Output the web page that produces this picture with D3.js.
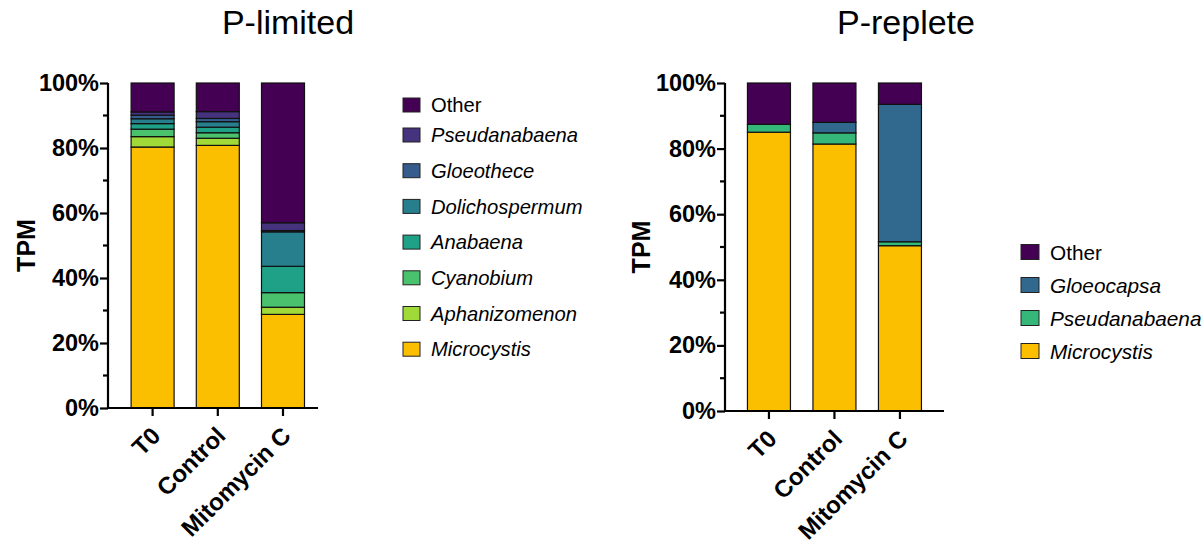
<!DOCTYPE html>
<html>
<head>
<meta charset="utf-8">
<script src="https://cdn.jsdelivr.net/npm/d3@7"></script>
<style>
  html, body { margin: 0; padding: 0; background: #fff; }
  svg { display: block; font-family: "Liberation Sans", Arial, sans-serif; }
</style>
</head>
<body>
<svg id="chart" width="1203" height="546"></svg>
<script>
// Treatments along the x axis
const groups = ["T0", "Control", "Mitomycin C"];

// P-limited: relative TPM (%) per genus, one value per treatment
const limitedTaxa = ["Microcystis", "Aphanizomenon", "Cyanobium", "Anabaena", "Dolichospermum", "Gloeothece", "Pseudanabaena", "Other"];
const limMicrocystis    = [80.3, 80.8, 28.8];
const limAphanizomenon  = [3.2, 2.2, 2.2];
const limCyanobium      = [2.3, 1.7, 4.5];
const limAnabaena       = [1.7, 1.7, 8.1];
const limDolichospermum = [1.5, 1.7, 10.6];
const limGloeothece     = [1.1, 1.0, 0.4];
const limPseudanabaena  = [1.0, 2.1, 2.4];
const limOther          = [8.9, 8.8, 43.0];
const limitedColors = ["#fbbf00", "#a0da39", "#4ac16d", "#1fa187", "#277f8e", "#365c8d", "#46337e", "#440154"];

// P-replete
const repleteTaxa = ["Microcystis", "Pseudanabaena", "Gloeocapsa", "Other"];
const repMicrocystis   = [85.0, 81.4, 50.4];
const repPseudanabaena = [2.4, 3.4, 1.2];
const repGloeocapsa    = [0.0, 3.2, 41.9];
const repOther         = [12.6, 12.0, 6.5];
const repleteColors = ["#fbbf00", "#35b779", "#31688e", "#440154"];

const yTicks = [0, 20, 40, 60, 80, 100];
const yMinorTicks = [10, 30, 50, 70, 90];
const italicTaxa = t => t !== "Other";

const svg = d3.select("#chart");

function buildRows(taxa, series) {
  return groups.map((g, i) => {
    const row = { group: g };
    taxa.forEach((t, k) => { row[t] = series[k][i]; });
    return row;
  });
}

function panel(cfg) {
  const g = svg.append("g");
  const y = d3.scaleLinear().domain([0, 100]).range([cfg.y0, cfg.y1]);
  const x = d3.scaleBand().domain(groups).range([cfg.xStart, cfg.xStart + cfg.step * 3]).padding(0);
  const barW = cfg.barW;
  const color = d3.scaleOrdinal().domain(cfg.taxa).range(cfg.colors);

  const rows = buildRows(cfg.taxa, cfg.series);
  const stacked = d3.stack().keys(cfg.taxa)(rows);

  // stacked bars
  g.append("g").selectAll("g").data(stacked).join("g")
    .attr("fill", d => color(d.key))
    .selectAll("rect").data(d => d.filter(s => s[1] - s[0] > 0)).join("rect")
    .attr("x", d => x(d.data.group) + x.bandwidth() / 2 - barW / 2)
    .attr("width", barW)
    .attr("y", d => y(d[1]))
    .attr("height", d => y(d[0]) - y(d[1]))
    .attr("stroke", "#111")
    .attr("stroke-width", 1.2);

  // y axis
  const yAxis = g.append("g")
    .attr("transform", `translate(${cfg.axisX},0)`)
    .call(d3.axisLeft(y).tickValues(yTicks).tickSize(8).tickPadding(1).tickFormat(d => d + "%"));
  yAxis.select(".domain").attr("stroke-width", 2.2).attr("d", `M0,${cfg.y0 + 1}V${cfg.y1}`);
  yAxis.selectAll(".tick line").attr("stroke-width", 2.2);
  yAxis.selectAll(".tick text").attr("font-size", 23.5).attr("font-weight", "bold")
    .attr("font-family", "Liberation Sans, Arial, sans-serif").attr("fill", "#000");
  g.append("g").attr("transform", `translate(${cfg.axisX},0)`)
    .selectAll("line").data(yMinorTicks).join("line")
    .attr("x1", -5).attr("x2", 0)
    .attr("y1", d => y(d)).attr("y2", d => y(d))
    .attr("stroke", "#000").attr("stroke-width", 2.2);

  // x axis
  const xAxis = g.append("g")
    .attr("transform", `translate(0,${cfg.y0})`)
    .call(d3.axisBottom(x).tickSize(8).tickFormat(""));
  xAxis.select(".domain").attr("stroke-width", 2.2).attr("d", `M${cfg.axisX - 1},0H${cfg.xEnd}`);
  xAxis.selectAll(".tick line").attr("stroke-width", 2.2);
  g.append("g").selectAll("text").data(groups).join("text")
    .attr("transform", d => `translate(${x(d) + x.bandwidth() / 2 - 3},${cfg.y0 + 17}) rotate(-45)`)
    .attr("text-anchor", "end")
    .attr("dy", "0.72em")
    .attr("font-size", 24)
    .attr("font-weight", "bold")
    .text(d => d);

  // y label
  g.append("text")
    .attr("transform", `translate(${cfg.labelX},${(cfg.y0 + cfg.y1) / 2}) rotate(-90)`)
    .attr("text-anchor", "middle")
    .attr("dy", "0.36em")
    .attr("font-size", 25)
    .attr("font-weight", "bold")
    .text("TPM");

  // title
  g.append("text")
    .attr("x", cfg.titleX).attr("y", 34)
    .attr("text-anchor", "middle")
    .attr("font-size", 34)
    .text(cfg.title);

  // legend, top entry = top of stack
  const legendItems = cfg.taxa.slice().reverse();
  const lg = g.append("g").selectAll("g").data(legendItems).join("g")
    .attr("transform", (d, i) => `translate(${cfg.legendX},${cfg.legendY(i)})`);
  lg.append("rect")
    .attr("x", 0).attr("y", -cfg.swH / 2)
    .attr("width", cfg.swW).attr("height", cfg.swH)
    .attr("fill", d => color(d))
    .attr("stroke", "#222").attr("stroke-width", 1);
  lg.append("text")
    .attr("x", cfg.textX).attr("dy", "0.36em")
    .attr("font-size", cfg.legendFont)
    .attr("font-style", d => italicTaxa(d) ? "italic" : "normal")
    .text(d => d);
}

panel({
  title: "P-limited", titleX: 288,
  taxa: limitedTaxa, colors: limitedColors,
  series: [limMicrocystis, limAphanizomenon, limCyanobium, limAnabaena, limDolichospermum, limGloeothece, limPseudanabaena, limOther],
  y0: 408, y1: 83, axisX: 108, xStart: 120, step: 65.2, xEnd: 318, barW: 43,
  labelX: 26,
  legendX: 403, textX: 28, swW: 17, swH: 14, legendFont: 20.2,
  legendY: i => i === 0 ? 105 : 135 + (i - 1) * 35.7
});

panel({
  title: "P-replete", titleX: 906,
  taxa: repleteTaxa, colors: repleteColors,
  series: [repMicrocystis, repPseudanabaena, repGloeocapsa, repOther],
  y0: 411, y1: 83, axisX: 725, xStart: 736.2, step: 65.5, xEnd: 944, barW: 43,
  labelX: 641,
  legendX: 1021, textX: 29, swW: 18, swH: 15, legendFont: 20.8,
  legendY: i => 252 + i * 33
});
</script>
</body>
</html>
